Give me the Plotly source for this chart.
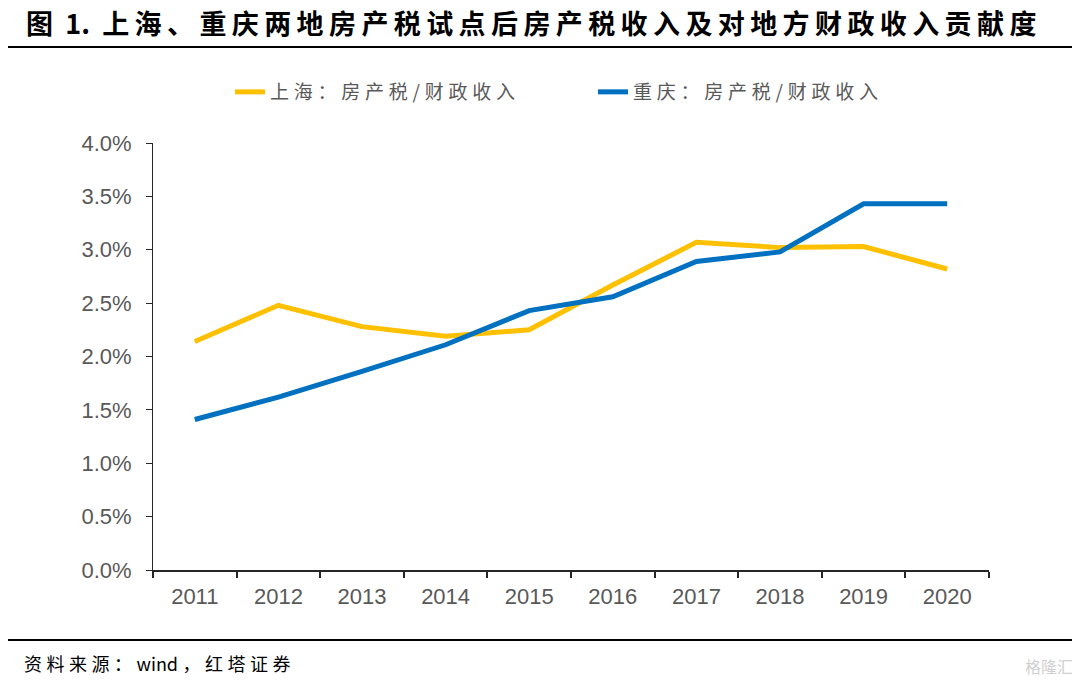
import plotly.graph_objects as go

years = ["2011", "2012", "2013", "2014", "2015", "2016", "2017", "2018", "2019", "2020"]
shanghai = [0.0214, 0.0248, 0.0228, 0.0219, 0.0225, 0.0267, 0.0307, 0.0302, 0.0303, 0.0282]
chongqing = [0.0141, 0.0162, 0.0186, 0.0211, 0.0243, 0.0256, 0.0289, 0.0298, 0.0343, 0.0343]
series_names = ["上海：房产税/财政收入", "重庆：房产税/财政收入"]
title_prefix = "图\u00a0\u00a01.\u00a0\u00a0"
title_text = "上海、重庆两地房产税试点后房产税收入及对地方财政收入贡献度"
source_text = "资料来源：wind，红塔证券"
watermark_text = "格隆汇"

# page is rendered with an 8px body margin
OFF = 8
W, H = 1080 - OFF, 687 - OFF
PL, PR, PT, PB = 153, 989, 143, 570   # plot area in page pixels
L, T = PL - OFF, PT - OFF
R, B = W - (PR - OFF), H - (PB - OFF)
pw, ph = PR - PL, PB - PT


def px(x):
    return (x - PL) / pw


def py(y):
    return (PB - y) / ph


def spaced(s, sep="\u2009"):
    """Add letter spacing between characters when either neighbour is CJK/full-width."""
    out = []
    for i, ch in enumerate(s):
        out.append(ch)
        if i < len(s) - 1:
            nxt = s[i + 1]
            if ord(ch) > 127 or ord(nxt) > 127:
                out.append(sep)
    return "".join(out)


fig = go.Figure()
fig.add_trace(go.Scatter(x=years, y=shanghai, mode="lines", name=spaced(series_names[0], "\u2005"),
                         line=dict(color="#FFC000", width=5)))
fig.add_trace(go.Scatter(x=years, y=chongqing, mode="lines", name=spaced(series_names[1], "\u2005"),
                         line=dict(color="#0070C0", width=5)))

cjk = "Noto Sans CJK SC"
tickfont = dict(family="Liberation Sans, Arial", size=22, color="#595959")
fig.update_layout(
    width=W, height=H,
    margin=dict(l=L, r=R, t=T, b=B),
    plot_bgcolor="white", paper_bgcolor="white",
    showlegend=True,
    legend=dict(orientation="h", x=px(230), y=py(92), xanchor="left", yanchor="middle",
                font=dict(family=cjk, size=19, color="#595959"),
                entrywidth=318, entrywidthmode="pixels", bgcolor="rgba(0,0,0,0)"),
    xaxis=dict(type="category", range=[-0.5, 9.5], showline=True, linecolor="#262626",
               linewidth=1.5, ticks="outside", tickson="boundaries", ticklen=6,
               tickcolor="#262626", tickwidth=1.5, showgrid=False, ticklabelstandoff=6,
               tickfont=tickfont),
    yaxis=dict(range=[0, 0.04], dtick=0.005, tickformat=".1%", showline=True,
               linecolor="#262626", linewidth=1, ticks="outside", ticklen=6,
               tickcolor="#262626", showgrid=False, zeroline=False, ticklabelstandoff=10,
               tickfont=tickfont),
    annotations=[
        dict(text="<b>" + title_prefix + spaced(title_text) + "</b>", xref="paper", yref="paper",
             x=px(24), y=py(23), xanchor="left", yanchor="middle", showarrow=False,
             font=dict(family=cjk, size=27, color="black")),
        dict(text=spaced(source_text, "\u2005"), xref="paper", yref="paper", x=px(22), y=py(663),
             xanchor="left", yanchor="middle", showarrow=False,
             font=dict(family=cjk, size=18, color="black")),
        dict(text=watermark_text, xref="paper", yref="paper", x=px(1075), y=py(666),
             xanchor="right", yanchor="middle", showarrow=False,
             font=dict(family=cjk, size=16, color="#d0d0d0")),
    ],
    shapes=[
        dict(type="line", xref="paper", yref="paper", x0=px(5), x1=px(1075), y0=py(47), y1=py(47),
             line=dict(color="black", width=2)),
        dict(type="line", xref="paper", yref="paper", x0=px(5), x1=px(1075), y0=py(640), y1=py(640),
             line=dict(color="black", width=2)),
    ],
)

fig.write_html("out.html")
